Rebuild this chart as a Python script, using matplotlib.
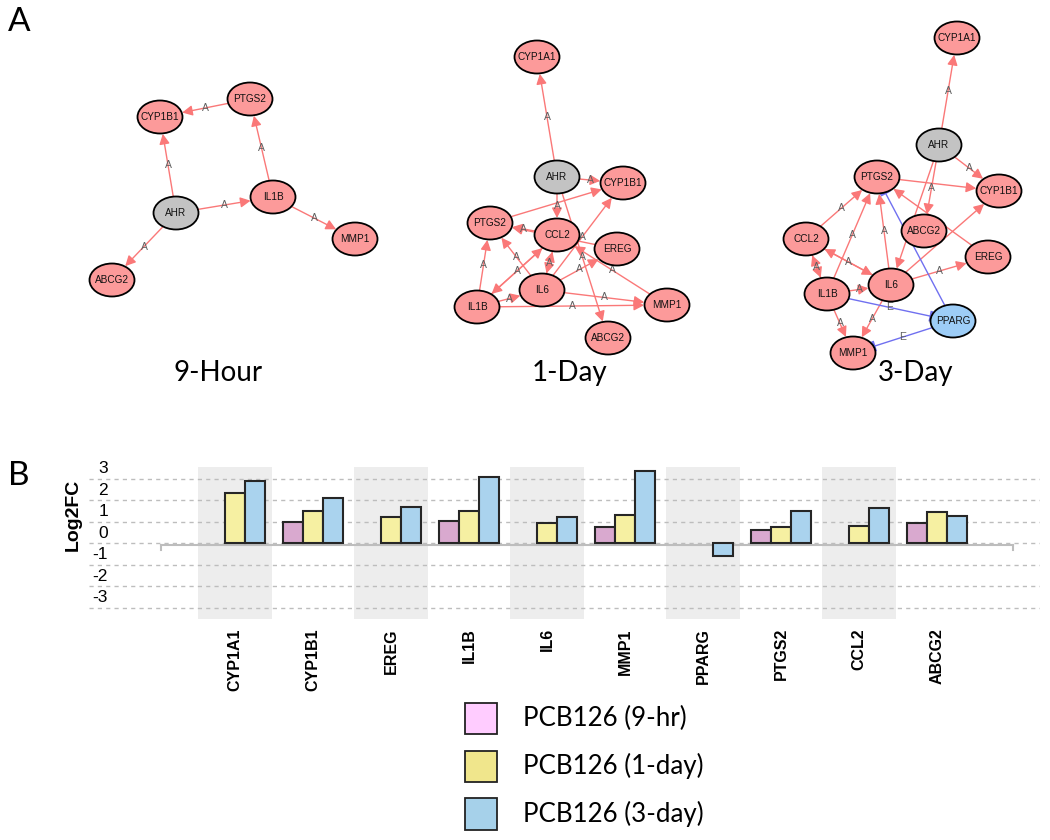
import numpy as np
import matplotlib
matplotlib.use('Agg')
import matplotlib.pyplot as plt
from matplotlib.patches import Ellipse, FancyArrowPatch, Rectangle
import matplotlib.transforms as mtransforms

# ---------------- data: bar chart (Log2FC) ----------------
genes = ['CYP1A1', 'CYP1B1', 'EREG', 'IL1B', 'IL6', 'MMP1', 'PPARG', 'PTGS2', 'CCL2', 'ABCG2']
fc_9hr = [np.nan, 0.99, np.nan, 1.05, np.nan, 0.77, np.nan, 0.62, np.nan, 0.93]
fc_1day = [2.33, 1.52, 1.21, 1.49, 0.94, 1.33, np.nan, 0.74, 0.80, 1.46]
fc_3day = [2.91, 2.09, 1.69, 3.10, 1.21, 3.38, -0.60, 1.49, 1.66, 1.28]
series_labels = ['PCB126 (9-hr)', 'PCB126 (1-day)', 'PCB126 (3-day)']
y_ticks = [3, 2, 1, 0, -1, -2, -3]

# ---------------- data: networks (edges: source, target, type) ----------------
net_titles = ['9-Hour', '1-Day', '3-Day']
edges_9h = [('AHR', 'CYP1B1', 'A'), ('AHR', 'IL1B', 'A'), ('AHR', 'ABCG2', 'A'),
            ('IL1B', 'PTGS2', 'A'), ('PTGS2', 'CYP1B1', 'A'), ('IL1B', 'MMP1', 'A')]
edges_1d = [('AHR', 'CYP1A1', 'A'), ('AHR', 'CYP1B1', 'A'), ('AHR', 'CCL2', 'A'),
            ('AHR', 'ABCG2', 'A'), ('PTGS2', 'CYP1B1', 'A'), ('CCL2', 'PTGS2', 'A'),
            ('EREG', 'PTGS2', 'A'), ('IL1B', 'PTGS2', 'A'), ('IL6', 'PTGS2', 'A'),
            ('CCL2', 'IL1B', 'A'), ('IL1B', 'CCL2', 'A'), ('IL6', 'CCL2', 'A'),
            ('CCL2', 'IL6', 'A'), ('IL1B', 'IL6', 'A'), ('IL1B', 'MMP1', 'A'),
            ('IL6', 'MMP1', 'A'), ('IL6', 'CYP1B1', 'A'), ('IL6', 'EREG', 'A'),
            ('MMP1', 'CCL2', 'A')]
edges_3d = [('AHR', 'CYP1A1', 'A'), ('AHR', 'CYP1B1', 'A'), ('AHR', 'ABCG2', 'A'),
            ('AHR', 'IL6', 'A'), ('PTGS2', 'CYP1B1', 'A'), ('EREG', 'PTGS2', 'A'),
            ('CCL2', 'PTGS2', 'A'), ('IL1B', 'PTGS2', 'A'), ('IL6', 'PTGS2', 'A'),
            ('CCL2', 'IL6', 'A'), ('IL6', 'CCL2', 'A'), ('CCL2', 'IL1B', 'A'),
            ('IL1B', 'CCL2', 'A'), ('IL1B', 'IL6', 'A'), ('IL6', 'CYP1B1', 'A'),
            ('IL6', 'EREG', 'A'), ('IL1B', 'MMP1', 'A'), ('IL6', 'MMP1', 'A'),
            ('IL1B', 'PPARG', 'E'), ('PPARG', 'MMP1', 'E'), ('PPARG', 'PTGS2', 'E')]

# ---------------- layout (pixel positions of nodes) ----------------
layout_9h = {'CYP1B1': (160, 117), 'PTGS2': (250, 99), 'AHR': (176, 213),
             'IL1B': (273, 197), 'MMP1': (355, 239), 'ABCG2': (112, 280)}
layout_1d = {'CYP1A1': (537, 57), 'AHR': (557, 177), 'CYP1B1': (623, 183),
             'PTGS2': (490, 223), 'CCL2': (557, 235), 'EREG': (617, 249),
             'IL6': (542, 290), 'IL1B': (477, 307), 'MMP1': (667, 305),
             'ABCG2': (608, 338)}
layout_3d = {'CYP1A1': (957, 38), 'AHR': (939, 145), 'PTGS2': (877, 177),
             'CYP1B1': (999, 191), 'ABCG2': (924, 231), 'CCL2': (806, 239),
             'EREG': (988, 257), 'IL6': (891, 285), 'IL1B': (827, 294),
             'PPARG': (953, 321), 'MMP1': (853, 353)}
title_x = [218, 569, 916]
title_baseline = 381

NODE_RED = '#FC9A9A'
NODE_GRAY = '#C3C3C3'
NODE_BLUE = '#9DCDF7'
EDGE_RED = '#FA7878'
EDGE_BLUE = '#7070F0'
NW, NH = 45, 33

fig = plt.figure(figsize=(10.5, 8.4), dpi=100)

# ---------------- Panel B: bar chart ----------------
cat_px0, cat_step = 235.0, 78.0
ax_left_px, ax_right_px = 89.0, 1040.0
ax_top_px, ax_bot_px = 467.0, 619.0
zero_px, unit_px = 543.3, 21.5

ax = fig.add_axes([ax_left_px / 1050, 1 - ax_bot_px / 840,
                   (ax_right_px - ax_left_px) / 1050, (ax_bot_px - ax_top_px) / 840])
ax.set_xlim((ax_left_px - cat_px0) / cat_step, (ax_right_px - cat_px0) / cat_step)
ax.set_ylim((zero_px - ax_bot_px) / unit_px, (zero_px - ax_top_px) / unit_px)
for sp in ax.spines.values():
    sp.set_visible(False)

x = np.arange(len(genes))
for i in range(0, len(genes), 2):
    ax.axvspan(i - 0.478, i + 0.478, color='#EDEDED', zorder=0, lw=0)

ax.set_yticks(y_ticks)
ax.yaxis.grid(True, linestyle=(0, (3, 3)), color='#BDBDBD', lw=1.0, zorder=0.5)
ax.set_axisbelow(True)

w = 20 / cat_step
bar_colors = ['#D9A9CF', '#F6F0A2', '#AAD3EE']
for k, (vals, col) in enumerate(zip([fc_9hr, fc_1day, fc_3day], bar_colors)):
    vals = np.array(vals, float)
    m = ~np.isnan(vals)
    ax.bar(x[m] + (k - 1) * w, vals[m], w, color=col, edgecolor='#262626', lw=1.5, zorder=3)

# baseline axis line with end ticks
ax.plot([-0.95, 9.97], [-0.06, -0.06], color='#BDBDBD', lw=1.5, zorder=2)
ax.plot([-0.95, -0.95], [-0.06, -0.32], color='#BDBDBD', lw=1.5, zorder=2)
ax.plot([9.97, 9.97], [-0.06, -0.32], color='#BDBDBD', lw=1.5, zorder=2)

ax.set_yticklabels([str(t) for t in y_ticks], fontsize=12.5, family='Liberation Sans')
ax.tick_params(axis='y', length=0, pad=-13.7)
offset = mtransforms.ScaledTranslation(0, 8.3 / 72, fig.dpi_scale_trans)
for lab in ax.get_yticklabels():
    lab.set_transform(lab.get_transform() + offset)

ax.set_xticks(x)
ax.set_xticklabels(genes, rotation=90, fontsize=11.5, fontweight='bold',
                   family='Liberation Sans')
ax.tick_params(axis='x', length=0, pad=6.5)

fig.text(73 / 1050, 1 - 515 / 840, 'Log2FC', rotation=90, fontsize=14,
         fontweight='bold', family='Liberation Sans', ha='center', va='center')

# ---------------- overlay (pixel coordinates): networks, titles, legend ----------------
axn = fig.add_axes([0, 0, 1, 1])
axn.set_xlim(0, 1050)
axn.set_ylim(840, 0)
axn.axis('off')
axn.patch.set_alpha(0)


def border_dist(d, a, b):
    return 1.0 / np.sqrt((d[0] / a) ** 2 + (d[1] / b) ** 2)


def node_color(n):
    if n == 'AHR':
        return NODE_GRAY
    if n == 'PPARG':
        return NODE_BLUE
    return NODE_RED


def inside_node(pt, pos):
    a, b = NW / 2 + 3, NH / 2 + 3
    for (cx, cy) in pos.values():
        if ((pt[0] - cx) / a) ** 2 + ((pt[1] - cy) / b) ** 2 < 1:
            return True
    return False


def draw_net(ax, pos, edges):
    a, b = NW / 2, NH / 2
    placed = []
    for s, t, kind in edges:
        p0 = np.array(pos[s], float)
        p1 = np.array(pos[t], float)
        v = p1 - p0
        L = np.hypot(*v)
        d = v / L
        start = p0 + d * border_dist(d, a, b)
        end = p1 - d * (border_dist(d, a, b) + 0.5)
        if kind == 'A':
            arr = FancyArrowPatch(tuple(start), tuple(end),
                                  arrowstyle='-|>,head_length=0.55,head_width=0.28',
                                  mutation_scale=11, color=EDGE_RED, lw=1.0,
                                  shrinkA=0, shrinkB=0, zorder=2)
            ax.add_patch(arr)
        else:
            ax.plot([start[0], end[0]], [start[1], end[1]], color=EDGE_BLUE, lw=1.0, zorder=2)
            nrm = np.array([-d[1], d[0]])
            ax.plot([end[0] - nrm[0] * 4, end[0] + nrm[0] * 4],
                    [end[1] - nrm[1] * 4, end[1] + nrm[1] * 4],
                    color=EDGE_BLUE, lw=2.0, zorder=2)
        mid = (p0 + p1) / 2
        # labels hidden behind nodes or stacked on another label are not visible
        if inside_node(mid, pos) or any(np.hypot(*(mid - q)) < 8 for q in placed):
            continue
        placed.append(mid)
        ax.text(mid[0], mid[1], kind, fontsize=7.5, color='#606060', ha='center',
                va='center', family='Liberation Sans', zorder=3)
    for n, (xx, yy) in pos.items():
        ax.add_patch(Ellipse((xx, yy), NW, NH, facecolor=node_color(n), edgecolor='black',
                             lw=1.3, zorder=4))
        ax.text(xx, yy, n, fontsize=7.2, ha='center', va='center', color='#111111',
                family='Liberation Sans', zorder=5)


for lay, ed in [(layout_9h, edges_9h), (layout_1d, edges_1d), (layout_3d, edges_3d)]:
    draw_net(axn, lay, ed)

for tx, tt in zip(title_x, net_titles):
    axn.text(tx, title_baseline, tt, fontsize=20, family='Lato', ha='center', va='baseline')

axn.text(8, 22, 'A', fontsize=24, family='Lato', ha='left', va='center')
axn.text(8, 476, 'B', fontsize=24, family='Lato', ha='left', va='center')

# legend (manual, pixel layout)
leg_colors = ['#FFCCFF', '#F0E68C', '#A6D1EA']
leg_x, leg_y0, leg_step, sq = 465, 702.7, 47.8, 31.5
for k, (c, l) in enumerate(zip(leg_colors, series_labels)):
    yy = leg_y0 + k * leg_step
    axn.add_patch(Rectangle((leg_x, yy), sq, sq, facecolor=c, edgecolor='#222222', lw=1.3))
    axn.text(523, yy + sq / 2, l, fontsize=18.6, family='Lato', ha='left', va='center')

fig.savefig('out.png', dpi=100)
